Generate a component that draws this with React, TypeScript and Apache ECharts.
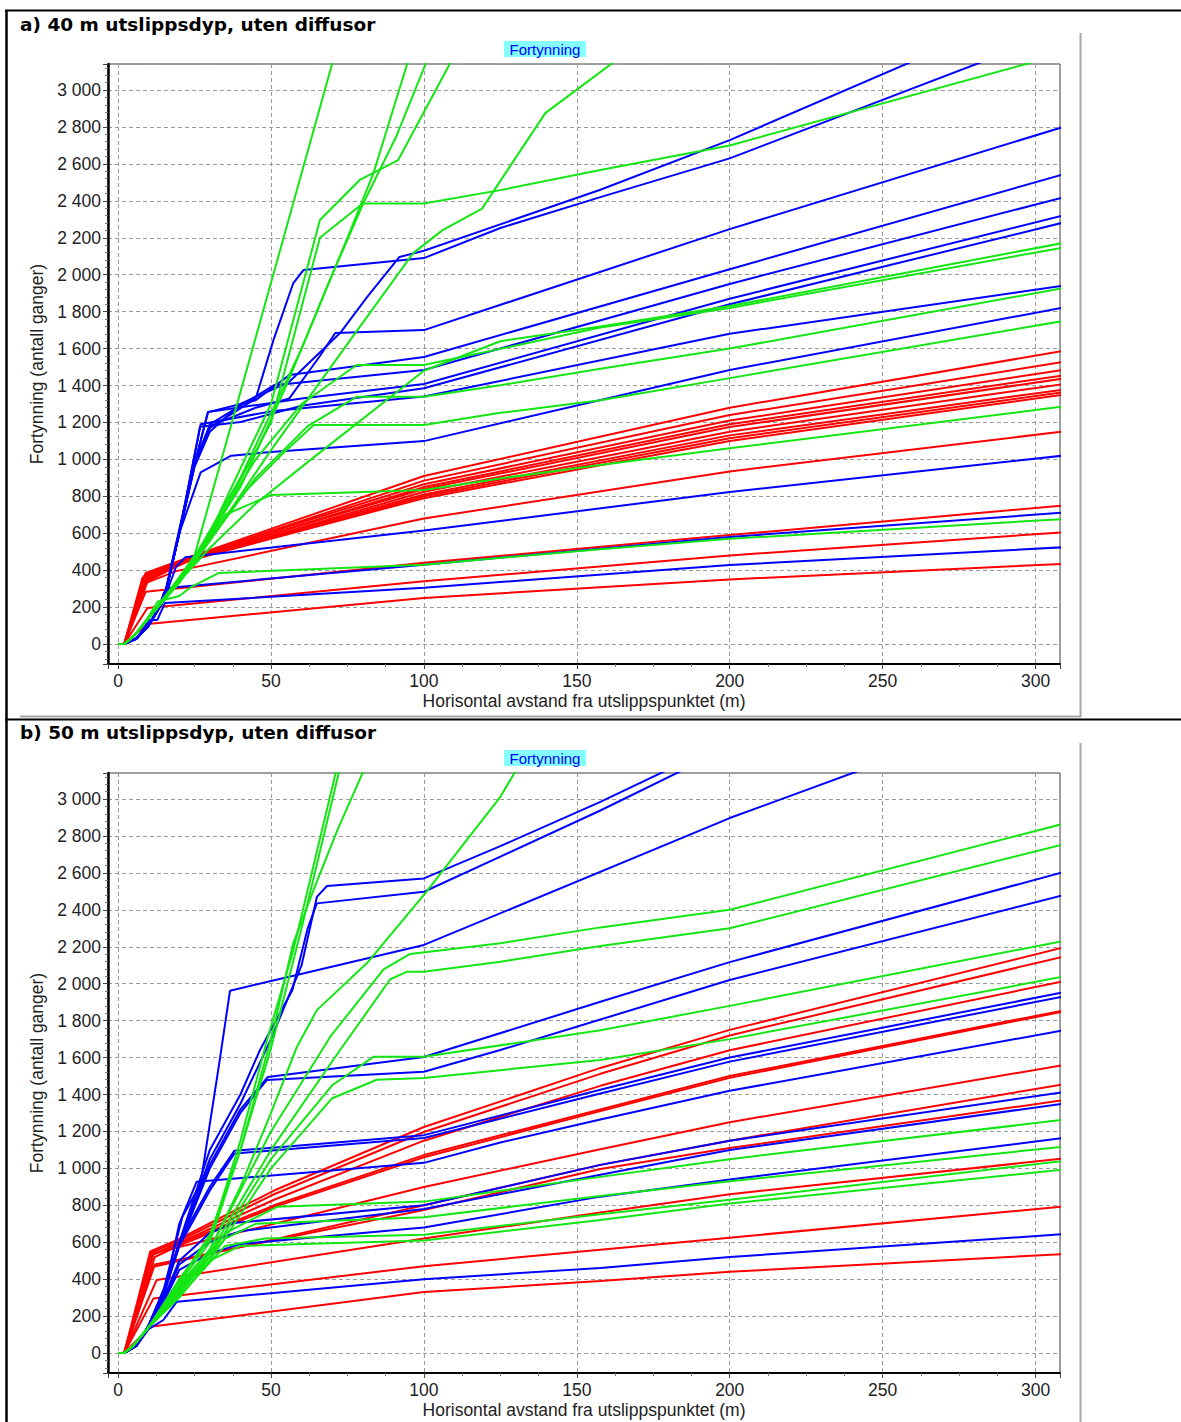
import React, { useEffect, useRef } from "react";
import * as echarts from "echarts";

type Pt = [number, number];
type Line = Pt[];

const W = 1181;
const H = 1422;

const xTickLabels = [0, 50, 100, 150, 200, 250, 300];
const yTickStep = 200;
const panelTitles = ["a) 40 m utslippsdyp, uten diffusor", "b) 50 m utslippsdyp, uten diffusor"];
const legendLabel = "Fortynning";
const xName = "Horisontal avstand fra utslippspunktet (m)";
const yName = "Fortynning (antall ganger)";

// ---------- Panel a: 40 m ----------
const redA: Line[] = [
  [[0,0],[2,0],[9,385],[24,475],[100,910],[200,1280],[310,1590]],
  [[0,0],[2,0],[9,375],[24,470],[100,885],[200,1240],[310,1530]],
  [[0,0],[2,0],[8.5,370],[23,468],[100,865],[200,1210],[310,1487]],
  [[0,0],[2,0],[9.5,365],[24,465],[100,850],[200,1190],[310,1457]],
  [[0,0],[2,0],[8,360],[23,462],[100,840],[200,1175],[310,1440]],
  [[0,0],[2,0],[10,355],[24,460],[100,825],[200,1150],[310,1410]],
  [[0,0],[2,0],[9,350],[23,458],[100,810],[200,1130],[310,1380]],
  [[0,0],[2,0],[8.5,345],[24,455],[100,800],[200,1115],[310,1366]],
  [[0,0],[2,0],[9.5,340],[23,452],[100,790],[200,1100],[310,1352]],
  [[0,0],[2,0],[9,330],[19,395],[100,680],[200,935],[310,1153]],
  [[0,0],[2,0],[9,283],[100,440],[200,590],[310,752]],
  [[0,0],[2,0],[9.6,195],[100,340],[200,480],[310,606]],
  [[0,0],[2,0],[9.6,108],[100,250],[200,350],[310,435]],
];

const blueA: Line[] = [
  [[0,0],[2,0],[6,30],[10,100],[15,240],[20,600],[25,960],[30,1150],[40,1300],[56,1420],[72.6,1684],[81.4,1879],[92,2096],[100,2130],[157.7,2460],[200,2729],[280,3300]],
  [[0,0],[2,0],[6,30],[10,105],[15,250],[20,620],[25,980],[30,1170],[45,1330],[50.8,1646],[57.3,1955],[60.6,2025],[100,2090],[125,2253],[157.7,2420],[200,2630],[290,3200]],
  [[0,0],[2,0],[6,30],[10,100],[15,245],[20,610],[25,990],[30,1180],[45,1280],[56,1330],[66,1560],[71,1684],[100,1700],[200,2247],[310,2805]],
  [[0,0],[2,0],[6,30],[10,100],[15,240],[20,600],[25,970],[29.4,1256],[45,1320],[56,1457],[100,1554],[200,2030],[310,2548]],
  [[0,0],[2,0],[6,30],[10,100],[15,240],[20,600],[25,965],[30,1190],[51,1402],[100,1484],[200,1950],[310,2423]],
  [[0,0],[2,0],[6,30],[10,100],[15,240],[20,600],[25,975],[29.4,1256],[60,1330],[100,1408],[200,1870],[310,2325]],
  [[0,0],[2,0],[6,30],[10,100],[15,240],[20,600],[26.8,1177],[40,1202],[60,1290],[100,1385],[200,1840],[310,2286]],
  [[0,0],[2,0],[6,30],[10,100],[15,240],[20,600],[27,1190],[50,1260],[100,1340],[200,1680],[310,1943]],
  [[0,0],[2,0],[6,30],[10,100],[15,240],[20,600],[27,930],[37,1020],[50,1040],[100,1099],[200,1484],[310,1825]],
  [[0,0],[2,0],[6,30],[10,100],[15,240],[19,420],[22,470],[100,615],[200,823],[310,1022]],
  [[0,0],[2,0],[6,30],[10,100],[13,180],[15,280],[17,305],[100,430],[200,580],[310,713]],
  [[0,0],[2,0],[6,30],[10.3,130],[12.8,130],[15.3,222],[100,305],[200,428],[310,525]],
];

const greenA: Line[] = [
  [[0,0],[2,0],[5,40],[10,140],[15,250],[20,360],[25,480],[45,1660],[73,3320]],
  [[0,0],[2,0],[5,40],[10,140],[15,250],[20,360],[25,470],[40,900],[60,1600],[75,2200],[83.5,2549],[96,3220]],
  [[0,0],[2,0],[5,40],[10,140],[15,250],[20,355],[25,460],[40,850],[55,1400],[70,2000],[80,2380],[91,2750],[102,3200]],
  [[0,0],[2,0],[5,40],[10,140],[15,245],[20,350],[30,600],[50,1300],[66,2296],[79,2513],[91.6,2621],[111,3220]],
  [[0,0],[2,0],[5,40],[10,140],[15,245],[20,350],[30,580],[50,1200],[66,2200],[80,2386],[100,2386],[125,2458],[157.7,2567],[200,2700],[300,3155]],
  [[0,0],[2,0],[5,40],[10,140],[15,240],[20,345],[30,560],[50,1050],[75.9,1646],[96.5,2117],[106,2240],[119,2358],[139.7,2875],[166,3200]],
  [[0,0],[2,0],[5,40],[10,140],[15,240],[20,345],[30,600],[45,1000],[60,1300],[78,1511],[100,1511],[157.7,1714],[200,1820],[310,2150]],
  [[0,0],[2,0],[5,40],[10,140],[15,240],[20,340],[30,520],[45,760],[62,985],[100,1480],[125,1640],[157.7,1720],[200,1830],[310,2175]],
  [[0,0],[2,0],[5,40],[10,140],[15,240],[20,340],[25,450],[45,900],[62,1180],[78,1339],[100,1339],[125,1402],[157.7,1491],[200,1600],[310,1930]],
  [[0,0],[2,0],[5,40],[10,140],[15,240],[20,335],[25,440],[40,800],[55,1050],[64,1186],[100,1186],[125,1252],[157.7,1320],[200,1440],[310,1752]],
  [[0,0],[2,0],[5,40],[10,140],[15,235],[20,330],[35,700],[50,807],[100,834],[125,897],[157.7,970],[200,1060],[310,1288]],
  [[0,0],[2,0],[6,60],[10,150],[13,230],[20,260],[24,310],[33,385],[100,430],[157.7,514],[200,570],[310,678]],
];

// ---------- Panel b: 50 m ----------
const redB: Line[] = [
  [[0,0],[2,0],[10.5,550],[19,610],[51,880],[100,1224],[157.7,1544],[200,1750],[310,2200]],
  [[0,0],[2,0],[11,545],[19,600],[51,860],[100,1197],[157.7,1512],[200,1720],[310,2150]],
  [[0,0],[2,0],[11.5,535],[19,590],[51,830],[100,1150],[157.7,1447],[200,1640],[310,2016]],
  [[0,0],[2,0],[11,530],[19,585],[51,800],[100,1072],[157.7,1319],[200,1500],[310,1858]],
  [[0,0],[2,0],[12,520],[19,575],[51,790],[100,1060],[157.7,1310],[200,1490],[310,1852]],
  [[0,0],[2,0],[11.6,540],[100,899],[157.7,1104],[200,1250],[310,1562]],
  [[0,0],[2,0],[11.6,467],[100,800],[157.7,1019],[200,1150],[310,1458]],
  [[0,0],[2,0],[12,480],[100,775],[157.7,997],[200,1110],[310,1372]],
  [[0,0],[2,0],[12.6,395],[100,620],[157.7,761],[200,860],[310,1055]],
  [[0,0],[2,0],[11.6,296],[100,470],[157.7,560],[200,625],[310,795]],
  [[0,0],[2,0],[10.5,142],[100,330],[157.7,390],[200,440],[310,537]],
];

const blueB: Line[] = [
  [[0,0],[2,0],[6,40],[10,150],[15,350],[21,736],[27,920],[33,1560],[36.6,1962],[57,2042],[100,2210],[200,2897],[245,3170]],
  [[0,0],[2,0],[6,40],[10,150],[15,340],[20,600],[30,1100],[40,1400],[46.4,1641],[57,1966],[62,2300],[65,2435],[100,2498],[125,2688],[157.7,2938],[190,3200]],
  [[0,0],[2,0],[6,40],[10,150],[15,340],[20,590],[30,1050],[40,1350],[50,1700],[60,2100],[65,2470],[68.3,2529],[100,2570],[125,2745],[157.7,2985],[185,3200]],
  [[0,0],[2,0],[6,40],[10,150],[15,330],[20,580],[30,1000],[40,1300],[48.6,1478],[100,1523],[125,1641],[157.7,1806],[200,2020],[310,2483]],
  [[0,0],[2,0],[6,40],[10,150],[15,330],[20,590],[30,1020],[40,1320],[49,1495],[100,1603],[157.7,1902],[200,2117],[310,2608]],
  [[0,0],[2,0],[6,40],[10,140],[15,320],[20,600],[30,900],[38,1095],[100,1180],[157.7,1426],[200,1600],[310,1956]],
  [[0,0],[2,0],[6,40],[10,140],[15,320],[20,580],[30,880],[38,1080],[100,1165],[157.7,1405],[200,1578],[310,1933]],
  [[0,0],[2,0],[6,40],[10,140],[15,310],[20,700],[25.7,928],[100,1030],[125,1140],[157.7,1265],[200,1420],[310,1750]],
  [[0,0],[2,0],[6,40],[10,140],[15,300],[20,500],[30,650],[37.7,704],[100,800],[157.7,1019],[200,1150],[310,1415]],
  [[0,0],[2,0],[6,40],[10,140],[15,290],[20,480],[30,600],[40,660],[100,780],[157.7,965],[200,1100],[310,1353]],
  [[0,0],[2,0],[6,40],[10,140],[15,280],[20,450],[30,540],[40,590],[100,680],[157.7,847],[200,940],[310,1166]],
  [[0,0],[2,0],[6,40],[10,130],[14.8,179],[19.2,278],[100,400],[157.7,461],[200,520],[310,645]],
];

const greenB: Line[] = [
  [[0,0],[2,0],[5,40],[10,140],[20,400],[30,620],[40,1150],[48.7,1695],[57.3,2182],[72,3200]],
  [[0,0],[2,0],[5,40],[10,140],[20,390],[30,640],[40,1100],[50,1650],[60,2300],[73,3200]],
  [[0,0],[2,0],[5,40],[10,140],[20,380],[30,600],[40,1100],[50,1700],[57.3,2220],[63.9,2507],[71.7,2832],[81,3180]],
  [[0,0],[2,0],[5,40],[10,140],[20,370],[30,560],[40,900],[50,1300],[58.5,1659],[65,1857],[81.4,2112],[100.4,2489],[125,3012],[131,3180]],
  [[0,0],[2,0],[5,40],[10,140],[20,360],[30,560],[50,1200],[69.4,1713],[86.8,2078],[95.5,2161],[125,2219],[157.7,2305],[200,2400],[310,2870]],
  [[0,0],[2,0],[5,40],[10,140],[20,350],[30,540],[50,1100],[72.6,1641],[89,2024],[94.5,2065],[100,2065],[125,2119],[157.7,2204],[200,2300],[310,2758]],
  [[0,0],[2,0],[5,40],[10,140],[20,350],[30,520],[50,1050],[70,1450],[83.5,1604],[100,1604],[157.7,1748],[200,1880],[310,2234]],
  [[0,0],[2,0],[5,40],[10,140],[20,340],[30,500],[50,1000],[70,1380],[84.6,1480],[100,1490],[157.7,1587],[200,1700],[310,2041]],
  [[0,0],[2,0],[5,40],[10,140],[20,330],[35,650],[52,792],[100,820],[157.7,954],[200,1050],[310,1265]],
  [[0,0],[2,0],[5,40],[10,140],[20,320],[35,620],[45,700],[100,735],[157.7,851],[200,930],[310,1119]],
  [[0,0],[2,0],[5,40],[10,140],[20,310],[35,580],[48,620],[100,640],[157.7,751],[200,830],[310,1042]],
  [[0,0],[2,0],[5,40],[10,140],[20,300],[30,500],[40,580],[100,610],[157.7,720],[200,810],[310,995]],
];

const RED = "#ff0000";
const BLUE = "#0000ff";
const GREEN = "#14e614";
const AXIS_FONT = '"Liberation Sans", Arial, sans-serif';
const TITLE_FONT = '"DejaVu Sans", Verdana, sans-serif';

const GRID_LEFT = 108;
const GRID_W = 952;
const GRID_H = 600;
const GRID_TOPS = [64, 773];
const X_MIN = -3.3;
const X_MAX = 308;
const Y_MIN = -108;
const Y_MAX = 3141;

function fmtY(v: number): string {
  if (Math.abs(v % yTickStep) > 1e-6) return "";
  return String(v).replace(/\B(?=(\d{3})+(?!\d))/g, " ");
}
function fmtX(v: number): string {
  return xTickLabels.indexOf(Math.round(v * 1000) / 1000) >= 0 ? String(v) : "";
}

function buildOption() {
  const grids = GRID_TOPS.map((top) => ({
    left: GRID_LEFT, top, width: GRID_W, height: GRID_H,
    show: true, borderColor: "#404040", borderWidth: 1, backgroundColor: "transparent",
  }));
  const xAxes = GRID_TOPS.map((_, gi) => ({
    type: "value", gridIndex: gi, min: X_MIN, max: X_MAX, splitNumber: 6,
    axisLine: { onZero: false, lineStyle: { color: "#000", width: 2 } },
    axisTick: { show: true, length: 5, lineStyle: { color: "#444", width: 1 } },
    minorTick: { show: true, splitNumber: 4, length: 3, lineStyle: { color: "#777", width: 1 } },
    axisLabel: { formatter: fmtX, color: "#222", fontSize: 17.5, fontFamily: AXIS_FONT, margin: 8, showMinLabel: true, showMaxLabel: true, hideOverlap: false },
    splitLine: { show: true, lineStyle: { color: "#9a9a9a", type: [4, 3], width: 1 } },
    name: xName, nameLocation: "middle", nameGap: 28,
    nameTextStyle: { color: "#222", fontSize: 17.5, fontFamily: AXIS_FONT },
  }));
  const yAxes = GRID_TOPS.map((_, gi) => ({
    type: "value", gridIndex: gi, min: Y_MIN, max: Y_MAX, splitNumber: 16,
    axisLine: { onZero: false, lineStyle: { color: "#000", width: 2.5 } },
    axisTick: { show: true, length: 5, lineStyle: { color: "#444", width: 1 } },
    minorTick: { show: true, splitNumber: 5, length: 3, lineStyle: { color: "#777", width: 1 } },
    axisLabel: { formatter: fmtY, color: "#222", fontSize: 17.5, fontFamily: AXIS_FONT, margin: 7, showMinLabel: true, showMaxLabel: true, hideOverlap: false },
    splitLine: { show: true, lineStyle: { color: "#9a9a9a", type: [4, 3], width: 1 } },
    name: yName, nameLocation: "middle", nameGap: 58, nameRotate: 90,
    nameTextStyle: { color: "#222", fontSize: 17.5, fontFamily: AXIS_FONT },
  }));

  const series: any[] = [];
  const add = (lines: Line[], color: string, gi: number) => {
    lines.forEach((d) =>
      series.push({
        type: "line", xAxisIndex: gi, yAxisIndex: gi, data: d,
        symbol: "none", showSymbol: false, clip: true, silent: true,
        lineStyle: { color, width: 2 }, itemStyle: { color },
        emphasis: { disabled: true },
      })
    );
  };
  add(redA, RED, 0); add(blueA, BLUE, 0); add(greenA, GREEN, 0);
  add(redB, RED, 1); add(blueB, BLUE, 1); add(greenB, GREEN, 1);

  const graphic: any[] = [
    { type: "line", shape: { x1: 5, y1: 10.5, x2: W, y2: 10.5 }, style: { stroke: "#000", lineWidth: 2 } },
    { type: "line", shape: { x1: 6.5, y1: 10, x2: 6.5, y2: H }, style: { stroke: "#000", lineWidth: 2.5 } },
    { type: "line", shape: { x1: 1080.5, y1: 33, x2: 1080.5, y2: 717 }, style: { stroke: "#a8a8a8", lineWidth: 2 } },
    { type: "line", shape: { x1: 20, y1: 716.5, x2: 1081, y2: 716.5 }, style: { stroke: "#a8a8a8", lineWidth: 2 } },
    { type: "line", shape: { x1: 5, y1: 719.5, x2: W, y2: 719.5 }, style: { stroke: "#000", lineWidth: 2 } },
    { type: "line", shape: { x1: 1080.5, y1: 743, x2: 1080.5, y2: H }, style: { stroke: "#a8a8a8", lineWidth: 2 } },
  ];
  const titleYs = [24, 732];
  const legendYs = [41, 750];
  titleYs.forEach((ty, i) => {
    graphic.push({
      type: "text", x: 20, y: ty,
      style: { text: panelTitles[i], font: `bold 18.5px ${TITLE_FONT}`, fill: "#000", align: "left", verticalAlign: "middle" },
    });
    graphic.push({ type: "rect", shape: { x: 504, y: legendYs[i], width: 82, height: 16 }, style: { fill: "#85ffff" } });
    graphic.push({
      type: "text", x: 545, y: legendYs[i] + 8.5,
      style: { text: legendLabel, font: `15px ${AXIS_FONT}`, fill: "#0000ff", align: "center", verticalAlign: "middle" },
    });
  });

  return {
    animation: false,
    backgroundColor: "#ffffff",
    grid: grids,
    xAxis: xAxes,
    yAxis: yAxes,
    series,
    graphic,
  };
}

export default function App() {
  const ref = useRef<HTMLDivElement>(null);
  useEffect(() => {
    if (!ref.current) return;
    const chart = echarts.init(ref.current, null, { renderer: "svg", width: W, height: H });
    chart.setOption(buildOption() as any);
    return () => chart.dispose();
  }, []);
  return (
    <div
      ref={ref}
      style={{ position: "absolute", left: 0, top: 0, width: W, height: H, background: "#fff" }}
    />
  );
}
